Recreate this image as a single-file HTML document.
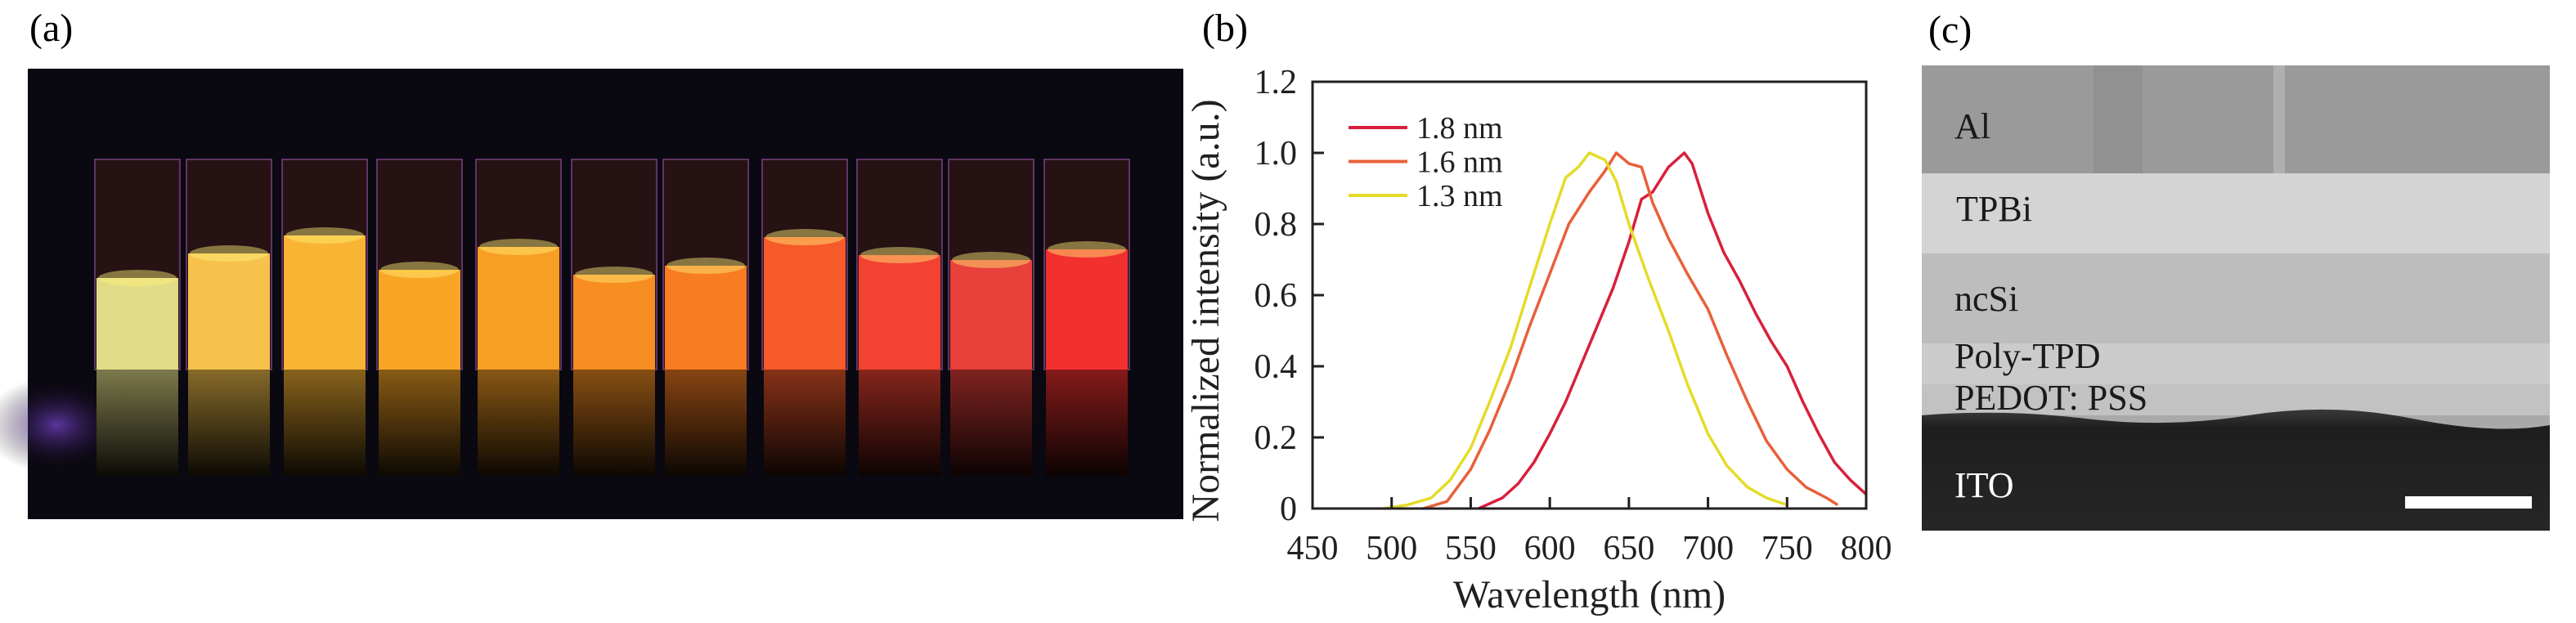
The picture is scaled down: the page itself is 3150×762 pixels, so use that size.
<!DOCTYPE html>
<html><head><meta charset="utf-8"><style>
html,body{margin:0;padding:0;background:#fff;}
svg{display:block;font-family:"Liberation Serif",serif;}
</style></head><body>
<svg id="fig" width="3150" height="762" viewBox="0 0 3150 762" xmlns="http://www.w3.org/2000/svg">
<defs>
<radialGradient id="glow" cx="0.5" cy="0.5" r="0.5"><stop offset="0" stop-color="#7040c0" stop-opacity="0.8"/><stop offset="1" stop-color="#000" stop-opacity="0"/></radialGradient>
<linearGradient id="refl" x1="0" y1="0" x2="0" y2="1"><stop offset="0" stop-color="#000" stop-opacity="0.45"/><stop offset="1" stop-color="#000" stop-opacity="0.95"/></linearGradient>
<linearGradient id="itoG" x1="0" y1="0" x2="0" y2="1"><stop offset="0" stop-color="#3a3a3a"/><stop offset="0.15" stop-color="#1e1e1e"/><stop offset="1" stop-color="#262626"/></linearGradient>
</defs>
<!-- Panel (a) -->
<text x="36" y="50" font-size="48">(a)</text>
<g id="photo"></g>
<!-- Panel (b) -->
<text x="1470" y="50" font-size="48">(b)</text>
<g id="chart"></g>
<!-- Panel (c) -->
<text x="2358" y="52" font-size="48">(c)</text>
<g>
<rect x="2350" y="80" width="768" height="569" fill="#a9a9a9"/>
<rect x="2350" y="80" width="768" height="132" fill="#9a9a9a"/>
<rect x="2560" y="80" width="60" height="132" fill="#8c8c8c" opacity="0.6"/>
<rect x="2780" y="80" width="14" height="132" fill="#b8b8b8" opacity="0.7"/>
<rect x="2350" y="212" width="768" height="98" fill="#d4d4d4"/>
<rect x="2350" y="310" width="768" height="110" fill="#bdbdbd"/>
<rect x="2350" y="420" width="768" height="50" fill="#cbcbcb"/>
<rect x="2350" y="470" width="768" height="38" fill="#c2c2c2"/>
<path d="M2350 508 Q2450 500 2550 512 T2750 508 T2950 512 T3118 520 L3118 649 L2350 649Z" fill="url(#itoG)"/>
<text x="2390" y="169" font-size="44" fill="#1a1a1a">Al</text>
<text x="2392" y="270" font-size="44" fill="#1a1a1a">TPBi</text>
<text x="2390" y="380" font-size="44" fill="#1a1a1a">ncSi</text>
<text x="2390" y="450" font-size="44" fill="#1a1a1a">Poly-TPD</text>
<text x="2390" y="501" font-size="44" fill="#1a1a1a">PEDOT: PSS</text>
<text x="2390" y="608" font-size="44" fill="#fff">ITO</text>
<rect x="2941" y="607" width="155" height="15" fill="#fff"/>
</g>
</svg>
<script>
// ---- Chart data ----
const wlRed = [555,570,580,590,600,610,625,640,650,658,665,675,685,690,700,710,720,730,740,750,760,770,780,790,800];
const red18 = [0,0.03,0.07,0.13,0.21,0.30,0.46,0.62,0.75,0.87,0.89,0.96,1.0,0.97,0.83,0.72,0.64,0.55,0.47,0.40,0.30,0.21,0.13,0.08,0.04];
const wlOrange = [520,535,550,562,575,587,600,612,625,635,642,650,658,665,675,687,700,712,725,737,750,762,775,782];
const orange16 = [0,0.02,0.11,0.22,0.36,0.51,0.66,0.80,0.89,0.95,1.0,0.97,0.96,0.86,0.76,0.66,0.56,0.43,0.30,0.19,0.11,0.06,0.03,0.01];
const wlYellow = [495,510,525,537,550,562,575,587,600,610,618,625,635,642,650,662,675,687,700,712,725,737,750];
const yellow13 = [0,0.01,0.03,0.08,0.17,0.30,0.45,0.62,0.80,0.93,0.96,1.0,0.98,0.92,0.80,0.65,0.50,0.35,0.21,0.12,0.06,0.03,0.01];
const xTicks = [450,500,550,600,650,700,750,800];
const yTicks = [0,0.2,0.4,0.6,0.8,1.0,1.2];
const yTickLabels = ["0","0.2","0.4","0.6","0.8","1.0","1.2"];
const legendLabels = ["1.8 nm","1.6 nm","1.3 nm"];
const seriesColors = ["#d8203c","#e8603a","#e4dc28"];

const NS="http://www.w3.org/2000/svg";
const X0=1605,X1=2282,Y0=622,Y1=100;
function xs(v){return X0+(v-450)/(800-450)*(X1-X0);}
function ys(v){return Y0-(v/1.2)*(Y0-Y1);}
function mk(tag,attrs,parent){const e=document.createElementNS(NS,tag);for(const k in attrs)e.setAttribute(k,attrs[k]);parent.appendChild(e);return e;}
const chart=document.getElementById('chart');

const series=[[wlRed,red18],[wlOrange,orange16],[wlYellow,yellow13]];
const names=['line-1-8nm','line-1-6nm','line-1-3nm'];
series.forEach((s,i)=>{
  const d=s[0].map((w,j)=>(j?'L':'M')+xs(w).toFixed(1)+' '+ys(s[1][j]).toFixed(1)).join(' ');
  const p=mk('path',{d:d,fill:'none',stroke:seriesColors[i],'stroke-width':3.5,'stroke-linejoin':'round'},chart);
  
  
});
const frame=mk('rect',{x:X0,y:Y1,width:X1-X0,height:Y0-Y1,fill:'none',stroke:'#231f20','stroke-width':3},chart);


xTicks.forEach(v=>{
  const t=mk('line',{x1:xs(v),x2:xs(v),y1:Y0,y2:Y0-14,stroke:'#231f20','stroke-width':3},chart);
  
  
  const l=mk('text',{x:xs(v),y:684,'font-size':42,'text-anchor':'middle',fill:'#231f20'},chart);
  l.textContent=String(v);
  
  
});
yTicks.forEach((v,i)=>{
  const t=mk('line',{x1:X0,x2:X0+14,y1:ys(v),y2:ys(v),stroke:'#231f20','stroke-width':3},chart);
  
  
  const l=mk('text',{x:1586,y:ys(v)+14,'font-size':42,'text-anchor':'end',fill:'#231f20'},chart);
  l.textContent=yTickLabels[i];
  
  
});
const xt=mk('text',{x:(X0+X1)/2,y:743,'font-size':48,'text-anchor':'middle',fill:'#231f20'},chart);
xt.textContent='Wavelength (nm)';


const yt=mk('text',{x:0,y:0,'font-size':48,'text-anchor':'middle',fill:'#231f20',transform:'translate(1490,380) rotate(-90)'},chart);
yt.textContent='Normalized intensity (a.u.)';


legendLabels.forEach((lab,i)=>{
  const y=156+i*41.5;
  const g=mk('g',{},chart);
  
  
  mk('line',{x1:1649,x2:1721,y1:y,y2:y,stroke:seriesColors[i],'stroke-width':4},g);
  const t=mk('text',{x:1732,y:y+13,'font-size':38,fill:'#231f20'},g);
  t.textContent=lab;
});

// ---- Photo of vials ----
const vialColors=["#e2dc88","#f6c24c","#f9b434","#f9a526","#f99e24","#f88e22","#f77c22","#f65a2a","#f34232","#e8403a","#f2302e"];
const vialX=[116,228,345,461,582,699,811,932,1048,1160,1277];
const vialLiquidTop=[340,310,288,330,302,336,325,290,312,318,305];
const ph=document.getElementById('photo');
mk('rect',{x:34,y:84,width:1413,height:551,fill:'#0a0810'},ph);
mk('ellipse',{cx:70,cy:520,rx:90,ry:60,fill:'url(#glow)'},ph);
vialX.forEach((x,i)=>{
  const w=104;
  const g=mk('g',{},ph);
  
  
  mk('rect',{x:x,y:195,width:w,height:257,fill:'#2a1414',stroke:'#6a3a70','stroke-width':2,opacity:0.9},g);
  mk('rect',{x:x+2,y:vialLiquidTop[i],width:w-4,height:452-vialLiquidTop[i],fill:vialColors[i]},g);
  mk('ellipse',{cx:x+w/2,cy:vialLiquidTop[i],rx:w/2-4,ry:10,fill:'#fff27a',opacity:0.45},g);
  mk('rect',{x:x+2,y:452,width:w-4,height:130,fill:vialColors[i]},g);
  mk('rect',{x:x+2,y:452,width:w-4,height:130,fill:'url(#refl)'},g);
});
</script>
</body></html>
